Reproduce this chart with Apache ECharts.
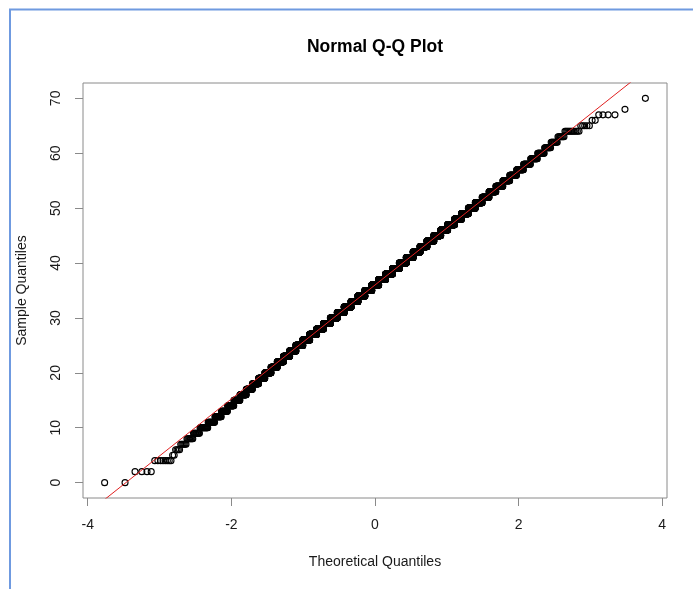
<!DOCTYPE html>
<html>
<head>
<meta charset="utf-8">
<script src="https://cdn.jsdelivr.net/npm/echarts@6/dist/echarts.min.js"></script>
<style>
html,body{margin:0;padding:0;background:#fff;}
#chart{width:693px;height:589px;}
</style>
</head>
<body>
<div id="chart"></div>
<script>
const sampleValues = [0,1,2,3,4,5,6,7,8,9,10,11,12,13,14,15,16,17,18,19,20,21,22,23,24,25,26,27,28,29,30,31,32,33,34,35,36,37,38,39,40,41,42,43,44,45,46,47,48,49,50,51,52,53,54,55,56,57,58,59,60,61,62,63,64,65,66,67,68,69,70];
const sampleCounts = [
  2,0,4,0,8,2,4,6,8,10,
  16,17,20,23,28,32,39,44,52,60,
  68,77,87,97,108,132,145,159,171,184,
  195,205,214,220,226,229,230,229,225,220,
  214,204,195,183,170,158,145,131,118,105,
  93,81,70,60,52,43,36,30,25,20,
  16,12,10,8,12,5,2,4,1,0,
  1
];
const xTickLabels = [-4, -2, 0, 2, 4];
const yTickLabels = [0, 10, 20, 30, 40, 50, 60, 70];
const titleText = 'Normal Q-Q Plot';
const xName = 'Theoretical Quantiles';
const yName = 'Sample Quantiles';

// inverse standard normal CDF (Acklam)
function qnorm(p) {
  const a = [-3.969683028665376e+01, 2.209460984245205e+02, -2.759285104469687e+02, 1.383577518672690e+02, -3.066479806614716e+01, 2.506628277459239e+00];
  const b = [-5.447609879822406e+01, 1.615858368580409e+02, -1.556989798598866e+02, 6.680131188771972e+01, -1.328068155288572e+01];
  const c = [-7.784894002430293e-03, -3.223964580411365e-01, -2.400758277161838e+00, -2.549732539343734e+00, 4.374664141464968e+00, 2.938163982698783e+00];
  const d = [7.784695709041462e-03, 3.224671290700398e-01, 2.445134137142996e+00, 3.754408661907416e+00];
  const plow = 0.02425, phigh = 1 - plow;
  let q, r;
  if (p < plow) {
    q = Math.sqrt(-2 * Math.log(p));
    return (((((c[0]*q+c[1])*q+c[2])*q+c[3])*q+c[4])*q+c[5]) / ((((d[0]*q+d[1])*q+d[2])*q+d[3])*q+1);
  }
  if (p > phigh) {
    q = Math.sqrt(-2 * Math.log(1 - p));
    return -(((((c[0]*q+c[1])*q+c[2])*q+c[3])*q+c[4])*q+c[5]) / ((((d[0]*q+d[1])*q+d[2])*q+d[3])*q+1);
  }
  q = p - 0.5; r = q * q;
  return (((((a[0]*r+a[1])*r+a[2])*r+a[3])*r+a[4])*r+a[5])*q / (((((b[0]*r+b[1])*r+b[2])*r+b[3])*r+b[4])*r+1);
}

// sorted sample
const sample = [];
sampleValues.forEach((v, i) => { for (let k = 0; k < sampleCounts[i]; k++) sample.push(v); });
const n = sample.length;
// qqnorm: theoretical quantiles from ppoints(n)
const points = sample.map((v, i) => [qnorm((i + 1 - 0.5) / n), v]);

// R-style axis limits (range extended by 4%)
const xr = [points[0][0], points[n - 1][0]];
const yr = [sample[0], sample[n - 1]];
const xPad = (xr[1] - xr[0]) * 0.04, yPad = (yr[1] - yr[0]) * 0.04;
const xMin = xr[0] - xPad, xMax = xr[1] + xPad;
const yMin = yr[0] - yPad, yMax = yr[1] + yPad;

// qqline through the quartiles (type 7 quantiles)
function quantile7(arr, p) {
  const h = (arr.length - 1) * p, lo = Math.floor(h);
  return arr[lo] + (h - lo) * ((arr[lo + 1] !== undefined ? arr[lo + 1] : arr[lo]) - arr[lo]);
}
const q1 = quantile7(sample, 0.25), q3 = quantile7(sample, 0.75);
const slope = (q3 - q1) / (qnorm(0.75) - qnorm(0.25));
const intercept = q1 - slope * qnorm(0.25);
const linePts = [[xMin, intercept + slope * xMin], [xMax, intercept + slope * xMax]];

const FONT = '"Liberation Sans", Arial, sans-serif';
const boxColor = '#8a8a8a';

const chart = echarts.init(document.getElementById('chart'), null, {renderer: 'canvas'});
chart.setOption({
  animation: false,
  backgroundColor: '#ffffff',
  grid: {left: 83, top: 83, right: 26, bottom: 91, show: true, borderColor: boxColor, borderWidth: 1, backgroundColor: 'transparent'},
  xAxis: {
    type: 'value', min: xMin, max: xMax, position: 'bottom',
    name: xName, nameLocation: 'middle', nameGap: 57,
    nameTextStyle: {fontFamily: FONT, fontSize: 14, color: '#1a1a1a'},
    axisLine: {show: false, onZero: false},
    axisTick: {show: true, inside: false, length: 8, customValues: xTickLabels, lineStyle: {color: boxColor, width: 1}},
    axisLabel: {customValues: xTickLabels, margin: 20, fontFamily: FONT, fontSize: 14, color: '#1a1a1a'},
    splitLine: {show: false}
  },
  yAxis: {
    type: 'value', min: yMin, max: yMax, position: 'left',
    name: yName, nameLocation: 'middle', nameGap: 54,
    nameTextStyle: {fontFamily: FONT, fontSize: 14, color: '#1a1a1a'},
    axisLine: {show: false, onZero: false},
    axisTick: {show: true, inside: false, length: 8, customValues: yTickLabels, lineStyle: {color: boxColor, width: 1}},
    axisLabel: {customValues: yTickLabels, rotate: 90, margin: 20, fontFamily: FONT, fontSize: 14, color: '#1a1a1a'},
    splitLine: {show: false}
  },
  graphic: [
    {type: 'rect', silent: true, z: 100, shape: {x: 10, y: 9.5, width: 2000, height: 2000},
     style: {fill: 'none', stroke: '#6f9ae0', lineWidth: 2}},
    {type: 'text', silent: true, x: 375, y: 47,
     style: {text: titleText, align: 'center', verticalAlign: 'middle', fontFamily: FONT, fontSize: 17.5, fontWeight: 'bold', fill: '#000'}}
  ],
  series: [
    {
      type: 'scatter', data: points, symbol: 'circle', symbolSize: 6,
      large: false, progressive: 0, silent: true,
      itemStyle: {color: 'rgba(0,0,0,0)', borderColor: '#000', borderWidth: 1.1, opacity: 1},
      emphasis: {disabled: true}
    },
    {
      type: 'line', data: linePts, showSymbol: false, symbol: 'none', silent: true, clip: true,
      lineStyle: {color: '#e02020', width: 1},
      z: 5
    }
  ]
});
</script>
</body>
</html>
